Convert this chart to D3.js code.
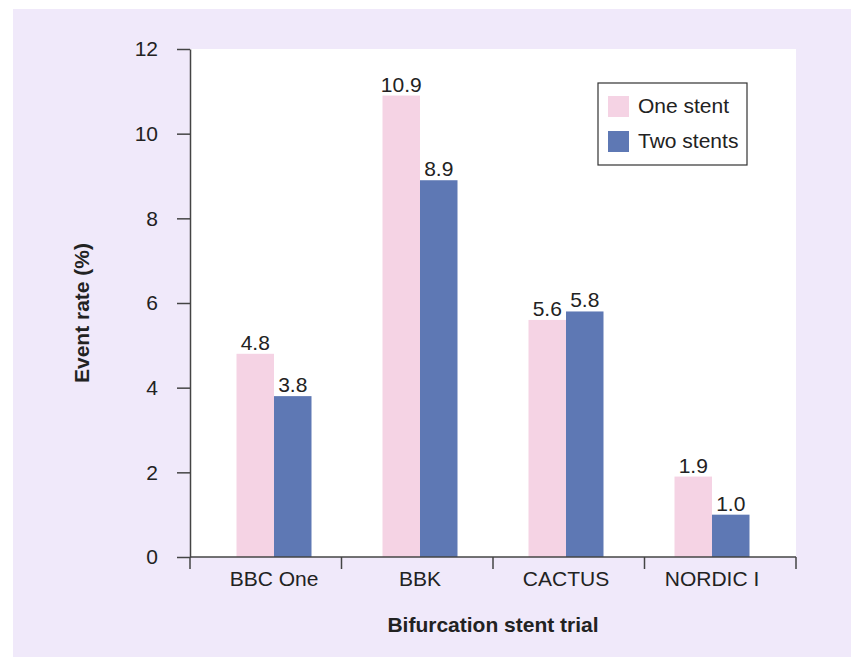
<!DOCTYPE html>
<html>
<head>
<meta charset="utf-8">
<script src="https://cdn.jsdelivr.net/npm/d3@7"></script>
<style>
  html, body { margin: 0; padding: 0; background: #ffffff; }
  svg { display: block; font-family: "Liberation Sans", Arial, sans-serif; }
</style>
</head>
<body>
<svg id="chart" width="851" height="657"></svg>
<script>
// Trials and event rates (%) per strategy
const trials = ["BBC One", "BBK", "CACTUS", "NORDIC I"];
const oneStent = [4.8, 10.9, 5.6, 1.9];
const twoStents = [3.8, 8.9, 5.8, 1.0];
const seriesNames = ["One stent", "Two stents"];
const yTicks = [0, 2, 4, 6, 8, 10, 12];

const colors = { "One stent": "#f5d3e4", "Two stents": "#5e78b4" };
const FS = 21;

const svg = d3.select("#chart");
const W = 851, H = 657;
const plot = { left: 190, right: 796, top: 49, bottom: 557 };

// Lavender panel behind the chart
svg.append("rect")
  .attr("x", 13).attr("y", 9)
  .attr("width", W - 13).attr("height", H - 9)
  .attr("fill", "#f0e9fa");

// White plotting area
svg.append("rect")
  .attr("x", plot.left).attr("y", plot.top)
  .attr("width", plot.right - plot.left).attr("height", plot.bottom - plot.top)
  .attr("fill", "#ffffff");

// Tick intervals span the full axis; bar pairs sit on a slightly tighter pitch
const xTicks = d3.scaleBand().domain(trials).range([plot.left, plot.right]).padding(0);
const x = d3.scaleBand().domain(trials).range([201, 785]).padding(0);
const y = d3.scaleLinear().domain([0, 12]).range([plot.bottom, plot.top]);
const barW = 37.5;

const rows = trials.map((t, i) => ({ trial: t, values: [
  { name: seriesNames[0], value: oneStent[i] },
  { name: seriesNames[1], value: twoStents[i] }
]}));

const groups = svg.append("g").selectAll("g").data(rows).join("g")
  .attr("transform", d => `translate(${x(d.trial) + x.bandwidth() / 2 - barW},0)`);

groups.selectAll("rect").data(d => d.values).join("rect")
  .attr("x", (d, i) => i * barW)
  .attr("y", d => y(d.value))
  .attr("width", barW)
  .attr("height", d => y(0) - y(d.value))
  .attr("fill", d => colors[d.name]);

groups.selectAll("text").data(d => d.values).join("text")
  .attr("x", (d, i) => i * barW + barW / 2)
  .attr("y", d => y(d.value) - 4)
  .attr("text-anchor", "middle")
  .attr("font-size", FS)
  .attr("fill", "#222")
  .text(d => d.value.toFixed(1));

// Y axis
const yAxis = svg.append("g")
  .attr("transform", `translate(${plot.left},0)`)
  .call(d3.axisLeft(y).tickValues(yTicks).tickSize(13).tickPadding(19).tickSizeOuter(0));
yAxis.selectAll("text").attr("font-size", FS).attr("fill", "#222")
  .attr("font-family", "Liberation Sans, Arial, sans-serif");
yAxis.selectAll("line, path").attr("stroke", "#444").attr("stroke-width", 1.5);

// X axis: baseline with ticks on category boundaries
const xAxisG = svg.append("g");
xAxisG.append("line")
  .attr("x1", plot.left).attr("x2", plot.right)
  .attr("y1", plot.bottom).attr("y2", plot.bottom)
  .attr("stroke", "#444").attr("stroke-width", 1.5);
const bounds = trials.map(t => xTicks(t)).concat([xTicks(trials[trials.length - 1]) + xTicks.bandwidth()]);
xAxisG.selectAll("line.tick").data(bounds).join("line")
  .attr("class", "tick")
  .attr("x1", d => d).attr("x2", d => d)
  .attr("y1", plot.bottom).attr("y2", plot.bottom + 12)
  .attr("stroke", "#444").attr("stroke-width", 1.5);
xAxisG.selectAll("text").data(trials).join("text")
  .attr("x", d => x(d) + x.bandwidth() / 2)
  .attr("y", plot.bottom + 29)
  .attr("text-anchor", "middle")
  .attr("font-size", FS)
  .attr("fill", "#222")
  .text(d => d);

// Axis titles
svg.append("text")
  .attr("x", (plot.left + plot.right) / 2)
  .attr("y", 632)
  .attr("text-anchor", "middle")
  .attr("font-size", FS).attr("font-weight", "bold").attr("fill", "#222")
  .text("Bifurcation stent trial");

svg.append("text")
  .attr("transform", `translate(89,${(plot.top + plot.bottom) / 2 + 10}) rotate(-90)`)
  .attr("text-anchor", "middle")
  .attr("font-size", FS).attr("font-weight", "bold").attr("fill", "#222")
  .text("Event rate (%)");

// Legend
const legend = svg.append("g").attr("transform", "translate(598,83)");
legend.append("rect")
  .attr("width", 149).attr("height", 82)
  .attr("fill", "#ffffff").attr("stroke", "#333").attr("stroke-width", 1.2);
const li = legend.selectAll("g").data(seriesNames).join("g")
  .attr("transform", (d, i) => `translate(10,${13 + i * 35})`);
li.append("rect").attr("width", 21).attr("height", 21).attr("fill", d => colors[d]);
li.append("text")
  .attr("x", 30).attr("y", 17)
  .attr("font-size", FS).attr("fill", "#222")
  .text(d => d);
</script>
</body>
</html>
